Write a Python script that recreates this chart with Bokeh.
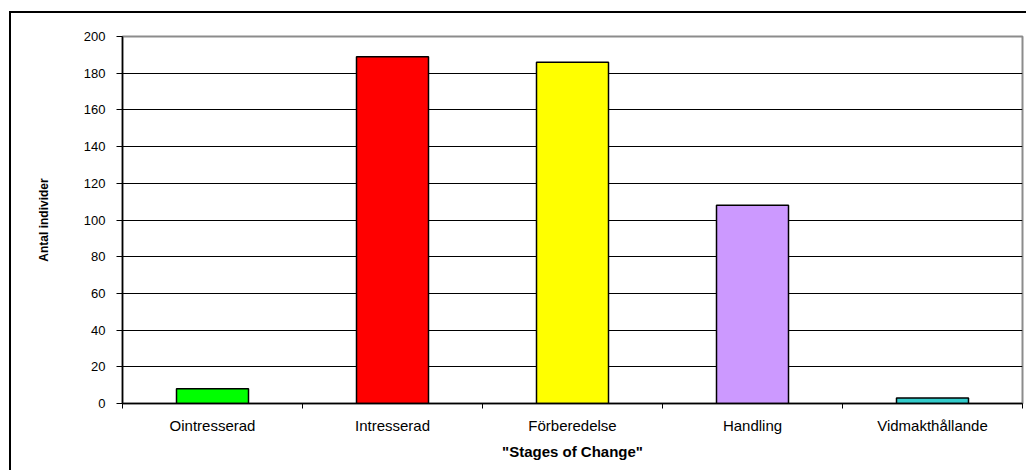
from bokeh.plotting import figure
from bokeh.models import Range1d, FixedTicker
from bokeh.embed import file_html
from bokeh.resources import INLINE
import numpy as np

categories = ["Ointresserad", "Intresserad", "Förberedelse", "Handling", "Vidmakthållande"]
counts = [8, 189, 186, 108, 3]
bar_colors = ["#00FF00", "#FF0000", "#FFFF00", "#CC99FF", "#33CCCC"]
y_ticks = list(range(0, 201, 20))

x_centers = np.arange(len(categories)) + 0.5
x_bounds = list(np.arange(len(categories) + 1).astype(float))

p = figure(width=1026, height=470, output_backend="svg", toolbar_location=None,
           x_range=Range1d(0, len(categories)), y_range=Range1d(0, 200),
           min_border_left=122, min_border_right=4, min_border_top=36, min_border_bottom=67)

p.vbar(x=x_centers, top=counts, width=0.4, bottom=0, fill_color=bar_colors,
       line_color="black", line_width=1.5)

p.background_fill_color = "white"
p.border_fill_color = None
p.outline_line_color = "#8c8c8c"
p.outline_line_width = 2

# outer chart border (left and top edges visible) drawn as the page background
p.styles = {
    "background": "linear-gradient(#000, #000) 9px 11px / 2px 100% no-repeat, "
                  "linear-gradient(#000, #000) 9px 11px / 100% 2px no-repeat, white"
}

# grid
p.xgrid.grid_line_color = None
p.ygrid.grid_line_color = "black"
p.ygrid.grid_line_width = 1
p.ygrid.ticker = FixedTicker(ticks=y_ticks)

# y axis
ya = p.yaxis[0]
ya.ticker = FixedTicker(ticks=y_ticks)
ya.axis_line_color = "black"
ya.axis_line_width = 1.5
ya.major_tick_line_color = "black"
ya.major_tick_out = 6
ya.major_tick_in = 0
ya.minor_tick_line_color = None
ya.major_label_standoff = 11
ya.major_label_text_font = "Liberation Sans"
ya.major_label_text_font_size = "13px"
ya.major_label_text_color = "black"
ya.axis_label = "Antal individer"
ya.axis_label_text_font = "Liberation Sans"
ya.axis_label_text_font_style = "bold"
ya.axis_label_text_font_size = "12px"
ya.axis_label_text_color = "black"
ya.axis_label_standoff = 30

# x axis
xa = p.xaxis[0]
xa.ticker = FixedTicker(ticks=list(x_centers), minor_ticks=x_bounds)
xa.major_label_overrides = {float(c): name for c, name in zip(x_centers, categories)}
xa.axis_line_color = "black"
xa.axis_line_width = 1.5
xa.major_tick_line_color = None
xa.major_tick_out = 0
xa.major_tick_in = 0
xa.minor_tick_line_color = "black"
xa.minor_tick_out = 5
xa.minor_tick_in = 0
xa.major_label_standoff = 8
xa.major_label_text_font = "Liberation Sans"
xa.major_label_text_font_size = "15px"
xa.major_label_text_color = "black"
xa.axis_label = '"Stages of Change"'
xa.axis_label_text_font = "Liberation Sans"
xa.axis_label_text_font_style = "bold"
xa.axis_label_text_font_size = "15px"
xa.axis_label_text_color = "black"
xa.axis_label_standoff = 6

open("out.html", "w").write(file_html(p, INLINE))
